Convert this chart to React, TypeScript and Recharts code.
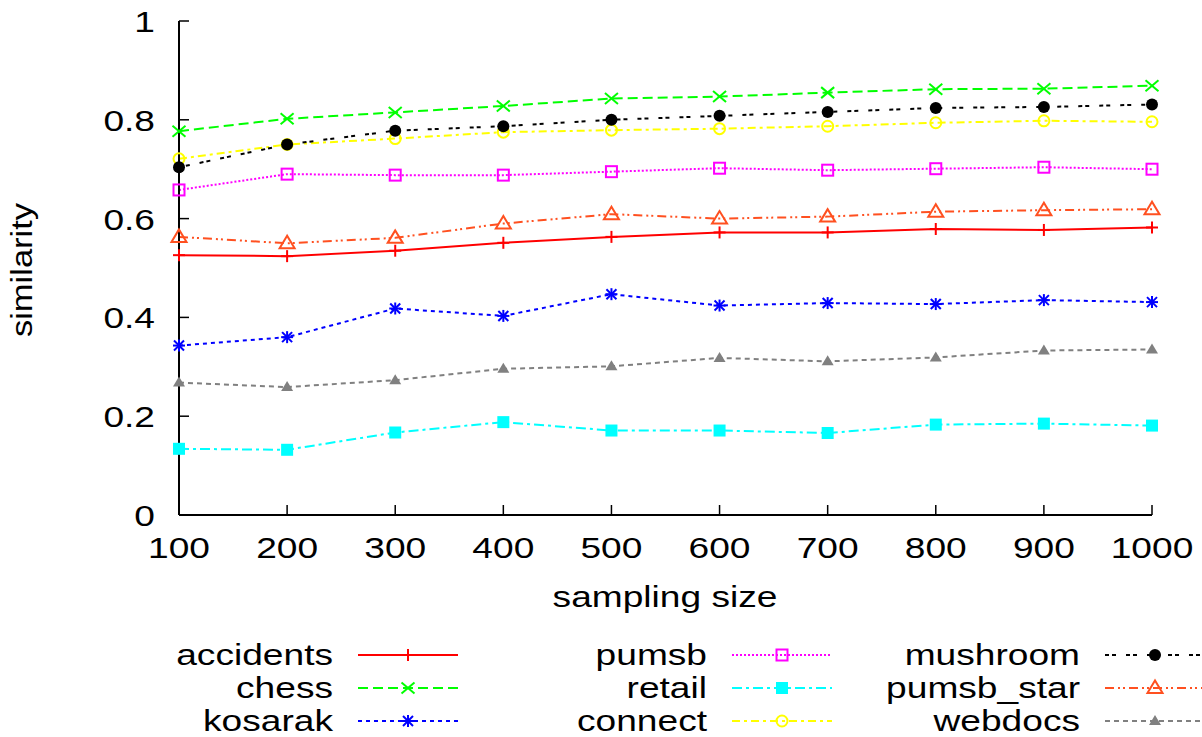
import React from "react";
import { LineChart, Line, XAxis, YAxis } from "recharts";

// sampling sizes on the x axis
const sizes = [100, 200, 300, 400, 500, 600, 700, 800, 900, 1000];

// similarity per dataset
const accidents = [0.526, 0.524, 0.535, 0.551, 0.563, 0.572, 0.572, 0.579, 0.577, 0.582];
const chess = [0.777, 0.802, 0.815, 0.828, 0.843, 0.847, 0.855, 0.862, 0.863, 0.869];
const kosarak = [0.343, 0.36, 0.418, 0.403, 0.447, 0.424, 0.429, 0.427, 0.435, 0.431];
const pumsb = [0.658, 0.69, 0.688, 0.688, 0.695, 0.702, 0.698, 0.701, 0.704, 0.7];
const retail = [0.134, 0.132, 0.167, 0.188, 0.171, 0.171, 0.166, 0.183, 0.185, 0.181];
const connect = [0.721, 0.75, 0.762, 0.775, 0.779, 0.782, 0.787, 0.794, 0.798, 0.796];
const mushroom = [0.704, 0.75, 0.778, 0.787, 0.8, 0.808, 0.816, 0.824, 0.826, 0.831];
const pumsbStar = [0.563, 0.55, 0.561, 0.59, 0.609, 0.6, 0.604, 0.614, 0.617, 0.619];
const webdocs = [0.268, 0.259, 0.273, 0.296, 0.301, 0.318, 0.311, 0.319, 0.333, 0.335];

const yTicks = [0, 0.2, 0.4, 0.6, 0.8, 1];
const yTickLabels = ["0", "0.2", "0.4", "0.6", "0.8", "1"];

type Shape =
  | "plus"
  | "cross"
  | "star"
  | "square"
  | "squareFill"
  | "circle"
  | "circleFill"
  | "triangle"
  | "triangleFill";

const series: { key: string; name: string; values: number[]; color: string; dash?: string; shape: Shape }[] = [
  { key: "accidents", name: "accidents", values: accidents, color: "#ff0000", shape: "plus" },
  { key: "chess", name: "chess", values: chess, color: "#00ff00", dash: "10 5", shape: "cross" },
  { key: "kosarak", name: "kosarak", values: kosarak, color: "#0000ff", dash: "4 4", shape: "star" },
  { key: "pumsb", name: "pumsb", values: pumsb, color: "#ff00ff", dash: "2 2", shape: "square" },
  { key: "retail", name: "retail", values: retail, color: "#00ffff", dash: "10 4 3 4", shape: "squareFill" },
  { key: "connect", name: "connect", values: connect, color: "#ffff00", dash: "8 4 3 4", shape: "circle" },
  { key: "mushroom", name: "mushroom", values: mushroom, color: "#000000", dash: "4 3 4 10", shape: "circleFill" },
  { key: "pumsb_star", name: "pumsb_star", values: pumsbStar, color: "#ff5020", dash: "9 4 2 3 2 4", shape: "triangle" },
  { key: "webdocs", name: "webdocs", values: webdocs, color: "#808080", dash: "5 4", shape: "triangleFill" },
];

const data = sizes.map((s, i) => {
  const row: Record<string, number> = { size: s };
  series.forEach((ser) => (row[ser.key] = ser.values[i]));
  return row;
});

const FONT = '"Liberation Sans", Arial, Helvetica, sans-serif';
const SX = 1.28;

function SText({ x, y, anchor, children, sx = SX, rotate = 0 }: any) {
  const rot = rotate ? ` rotate(${rotate})` : "";
  return (
    <text
      transform={`translate(${x},${y})${rot} scale(${sx},1)`}
      textAnchor={anchor}
      fontSize={29}
      fontFamily={FONT}
      fill="#000"
    >
      {children}
    </text>
  );
}

function Marker({ shape, cx, cy, color }: { shape: Shape; cx: number; cy: number; color: string }) {
  switch (shape) {
    case "plus":
      return (
        <g stroke={color} strokeWidth={2}>
          <line x1={cx - 6} y1={cy} x2={cx + 6} y2={cy} />
          <line x1={cx} y1={cy - 6} x2={cx} y2={cy + 6} />
        </g>
      );
    case "cross":
      return (
        <g stroke={color} strokeWidth={2}>
          <line x1={cx - 6.5} y1={cy - 5.5} x2={cx + 6.5} y2={cy + 5.5} />
          <line x1={cx - 6.5} y1={cy + 5.5} x2={cx + 6.5} y2={cy - 5.5} />
        </g>
      );
    case "star":
      return (
        <g stroke={color} strokeWidth={2}>
          <line x1={cx - 6} y1={cy} x2={cx + 6} y2={cy} />
          <line x1={cx} y1={cy - 6} x2={cx} y2={cy + 6} />
          <line x1={cx - 5} y1={cy - 5} x2={cx + 5} y2={cy + 5} />
          <line x1={cx - 5} y1={cy + 5} x2={cx + 5} y2={cy - 5} />
        </g>
      );
    case "square":
      return <rect x={cx - 5.5} y={cy - 5.5} width={11} height={11} fill="none" stroke={color} strokeWidth={2} />;
    case "squareFill":
      return <rect x={cx - 6} y={cy - 6} width={12} height={12} fill={color} />;
    case "circle":
      return <circle cx={cx} cy={cy} r={5.5} fill="none" stroke={color} strokeWidth={2} />;
    case "circleFill":
      return <circle cx={cx} cy={cy} r={6} fill={color} />;
    case "triangle":
      return (
        <polygon
          points={`${cx},${cy - 7.5} ${cx - 7.5},${cy + 5} ${cx + 7.5},${cy + 5}`}
          fill="none"
          stroke={color}
          strokeWidth={2}
        />
      );
    default:
      return <polygon points={`${cx},${cy - 6} ${cx - 6},${cy + 4} ${cx + 6},${cy + 4}`} fill={color} />;
  }
}

const XTick = (p: any) => (
  <SText x={p.x} y={p.y + 53} anchor="middle">
    {p.payload.value}
  </SText>
);

const YTick = (p: any) => (
  <SText x={p.x - 34} y={p.y + 11} anchor="end">
    {yTickLabels[yTicks.indexOf(p.payload.value)]}
  </SText>
);

const axisLine = { stroke: "#000", strokeWidth: 2 };
const tickLine = { stroke: "#000", strokeWidth: 1.5 };

const legendEnds = [333, 707, 1080];
const legendRows = [655, 688, 721];

export default function App() {
  return (
    <div style={{ position: "absolute", left: 0, top: 0, width: 1202, height: 737, background: "#fff" }}>
      <LineChart width={1202} height={737} data={data} margin={{ top: 21, right: 50, bottom: 172, left: 119 }}>
        <XAxis
          dataKey="size"
          type="number"
          domain={[100, 1000]}
          ticks={sizes}
          height={50}
          tickSize={-10}
          tickMargin={0}
          axisLine={axisLine}
          tickLine={tickLine}
          tick={XTick}
        />
        <XAxis
          xAxisId="top"
          orientation="top"
          type="number"
          domain={[100, 1000]}
          ticks={sizes}
          height={0}
          tickSize={-10}
          axisLine={axisLine}
          tickLine={tickLine}
          tick={false}
        />
        <YAxis
          type="number"
          domain={[0, 1]}
          ticks={yTicks}
          width={60}
          tickSize={-10}
          tickMargin={0}
          axisLine={axisLine}
          tickLine={tickLine}
          tick={YTick}
        />
        <YAxis
          yAxisId="right"
          orientation="right"
          type="number"
          domain={[0, 1]}
          ticks={yTicks}
          width={0}
          tickSize={-10}
          axisLine={axisLine}
          tickLine={tickLine}
          tick={false}
        />
        {series.map((s) => (
          <Line
            key={s.key}
            dataKey={s.key}
            type="linear"
            stroke={s.color}
            strokeWidth={2}
            strokeDasharray={s.dash}
            isAnimationActive={false}
            dot={(p: any) => <Marker key={`${s.key}-${p.index}`} shape={s.shape} cx={p.cx} cy={p.cy} color={s.color} />}
          />
        ))}
      </LineChart>
      <svg width={1202} height={737} style={{ position: "absolute", left: 0, top: 0, pointerEvents: "none" }}>
        <SText x={665} y={607} anchor="middle">
          sampling size
        </SText>
        <SText x={32} y={270} anchor="middle" rotate={-90} sx={1.19}>
          similarity
        </SText>
        {series.map((s, i) => {
          const end = legendEnds[Math.floor(i / 3)];
          const y = legendRows[i % 3];
          return (
            <g key={s.key}>
              <SText x={end} y={y + 9.5} anchor="end">
                {s.name}
              </SText>
              <line x1={end + 25} y1={y} x2={end + 125} y2={y} stroke={s.color} strokeWidth={2} strokeDasharray={s.dash} />
              <Marker shape={s.shape} cx={end + 75} cy={y} color={s.color} />
            </g>
          );
        })}
      </svg>
    </div>
  );
}
